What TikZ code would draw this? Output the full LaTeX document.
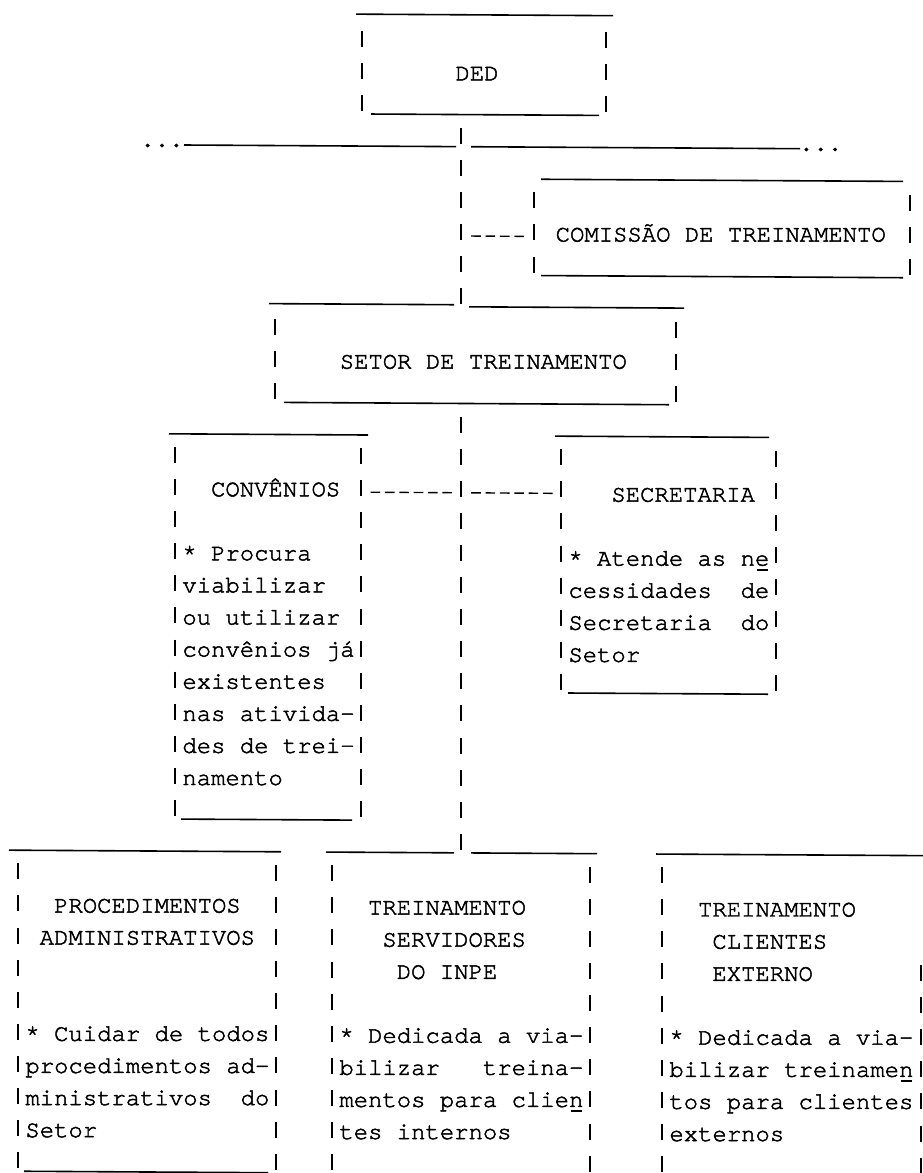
\documentclass[tikz,border=0pt]{standalone}
\usepackage{fontspec}
\newfontfamily\tw[FakeBold=2]{TeX Gyre Cursor}
\newcommand\tyul[1]{\leavevmode\rlap{\hspace{1.6pt}\rule[-5pt]{11.2pt}{1.8pt}}#1}
\begin{document}
\begin{tikzpicture}[x=1pt,y=-1pt,
  declare function={row(\k)=4.5+32.1*\k;},
  ul/.style={line width=1.6pt},
  bar/.style={line width=1.3pt, dash pattern=on 16pt off 16.1pt},
  hy/.style={line width=1.4pt, dash pattern=on 9.6pt off 4.75pt},
  txt/.style={anchor=base west, inner sep=0pt, font=\tw\fontsize{23.92}{32.1}\selectfont},
]
\useasboundingbox (0,0) rectangle (923,1173);
\begin{scope}[cm={1,-0.006,0,1,(0,0)}]
% ---------- DED ----------
\node[txt] (ded) at (455.3,{row(2)+9}) {DED};
\draw[ul] (356,12) -- (613,12);
\draw[bar] (362,{row(1)-8}) -- (362,{row(3)+8});
\draw[bar] (606,{row(1)-8}) -- (606,{row(3)+8});
\draw[ul] (371,{row(3)+11}) -- (599,{row(3)+11});
% ---------- horizontal org line ----------
\node[txt] (dotsL) at (140.3,{row(4)+13}) {...};
\node[txt] (dotsR) at (799,{row(4)+13}) {...};
\coordinate (hl1) at (184,{row(4)+11});
\coordinate (hl2) at (456,{row(4)+11});
\coordinate (hr1) at (471,{row(4)+11});
\coordinate (hr2) at (800,{row(4)+11});
\draw[ul] (hl1) -- (hl2);
\draw[ul] (hr1) -- (hr2);
% ---------- trunk (upper) ----------
\coordinate (tA) at (461,{row(4)-8});
\coordinate (tB) at (461,{row(9)+8});
\draw[bar] (tA) -- (tB);
% ---------- COMISSAO ----------
\node[txt] (com) at (555.5,{row(7)+9}) {COMISSÃO DE TREINAMENTO};
\draw[ul] (541,{row(5)+11}) -- (903,{row(5)+11});
\draw[bar] (534,{row(6)-8}) -- (534,{row(8)+8});
\draw[bar] (910,{row(6)-8}) -- (910,{row(8)+8});
\draw[ul] (541,{row(8)+11}) -- (903,{row(8)+11});
\coordinate (cA) at (471.2,{row(7)+4});
\coordinate (cB) at (526.2,{row(7)+4});
\draw[hy] (cA) -- (cB);
% ---------- SETOR ----------
\node[txt] (set) at (339.6,{row(11)+9}) {SETOR DE TREINAMENTO};
\draw[ul] (269,302) -- (454,302);
\draw[ul] (469,304) -- (684,304);
\draw[bar] (275,{row(10)-8}) -- (275,{row(12)+8});
\draw[bar] (676,{row(10)-8}) -- (676,{row(12)+8});
\draw[ul] (284,{row(12)+11}) -- (669,{row(12)+11});
% ---------- trunk (lower) ----------
\coordinate (tC) at (461,{row(13)-8});
\coordinate (tD) at (461,{row(26)+8});
\draw[bar] (tC) -- (tD);
% ---------- CONVENIOS ----------
\node[txt] (conv) at (210.9,{row(15)+9}) {CONVÊNIOS};
\draw[ul] (169,{row(13)+11}) -- (368,{row(13)+11});
\draw[bar] (175,{row(14)-8}) -- (175,{row(25)+8});
\draw[bar] (361,{row(14)-8}) -- (361,{row(25)+8});
\draw[ul] (181,{row(25)+11}) -- (352,{row(25)+11});
\foreach \t [count=\i from 17] in {{* Procura},{viabilizar},{ou utilizar},{convênios já},{existentes},{nas ativida-},{des de trei-},{namento}}
  \node[txt,name=conv-\i] at (182.2,{row(\i)+9}) {\t};
% ---------- SECRETARIA ----------
\node[txt] (sec) at (611.2,{row(15)+12}) {SECRETARIA};
\draw[ul] (555,{row(13)+11}) -- (769,{row(13)+11});
\draw[bar] (561,{row(14)-8}) -- (561,{row(21)+8});
\draw[bar] (776,{row(14)-8}) -- (776,{row(21)+8});
\draw[ul] (568,{row(21)+11}) -- (768,{row(21)+11});
\foreach \t [count=\i from 17] in {{* Atende as n\tyul{e}},{cessidades~~de},{Secretaria~~do},{Setor}}
  \node[txt,name=sec-\i] at (568.2,{row(\i)+12}) {\t};
% dashed links convenios -- trunk -- secretaria
\coordinate (dA) at (370.6,{row(15)+4});
\coordinate (dB) at (454.6,{row(15)+4});
\coordinate (dC) at (471.2,{row(15)+4});
\coordinate (dD) at (555.2,{row(15)+4});
\draw[hy] (dA) -- (dB);
\draw[hy] (dC) -- (dD);
% ---------- PROCEDIMENTOS ----------
\node[txt] (proc1) at (53.9,{row(28)+9}) {PROCEDIMENTOS};
\node[txt] (proc2) at (39.5,{row(29)+9}) {ADMINISTRATIVOS};
\draw[ul] (9,{row(26)+11}) -- (281,{row(26)+11});
\draw[bar] (18,{row(27)-8}) -- (18,{row(36)+8});
\draw[bar] (276,{row(27)-8}) -- (276,{row(36)+8});
\draw[ul] (24,{row(36)+11}) -- (268,{row(36)+11});
\foreach \t [count=\i from 32] in {{* Cuidar de todos},{procedimentos ad-},{ministrativos~~do},{Setor}}
  \node[txt,name=proc-\i] at (25.2,{row(\i)+9}) {\t};
% ---------- TREINAMENTO SERVIDORES ----------
\node[txt] (ts1) at (367.9,{row(28)+9}) {TREINAMENTO};
\node[txt] (ts2) at (382.2,{row(29)+9}) {SERVIDORES};
\node[txt] (ts3) at (396.6,{row(30)+9}) {DO INPE};
\draw[ul] (326,{row(26)+11}) -- (454,{row(26)+11});
\draw[ul] (471,{row(26)+11}) -- (597,{row(26)+11});
\draw[bar] (332,{row(27)-8}) -- (332,{row(36)+8});
\draw[bar] (590,{row(27)-8}) -- (590,{row(36)+8});
\foreach \t [count=\i from 32] in {{* Dedicada a via-},{bilizar~~~treina-},{mentos para clie\tyul{n}},{tes internos}}
  \node[txt,name=ts-\i] at (339.2,{row(\i)+9}) {\t};
% ---------- TREINAMENTO CLIENTES ----------
\node[txt] (tc1) at (697.9,{row(28)+9}) {TREINAMENTO};
\node[txt] (tc2) at (712.2,{row(29)+9}) {CLIENTES};
\node[txt] (tc3) at (712.2,{row(30)+9}) {EXTERNO};
\draw[ul] (656,{row(26)+11}) -- (923,{row(26)+11});
\draw[bar] (662,{row(27)-8}) -- (662,{row(36)+8});
\draw[bar] (921,{row(30)-8}) -- (921,{row(36)+8});
\foreach \t [count=\i from 32] in {{* Dedicada a via-},{bilizar treiname\tyul{n}},{tos para clientes},{externos}}
  \node[txt,name=tc-\i] at (669.2,{row(\i)+9}) {\t};
\end{scope}
\end{tikzpicture}
\end{document}
